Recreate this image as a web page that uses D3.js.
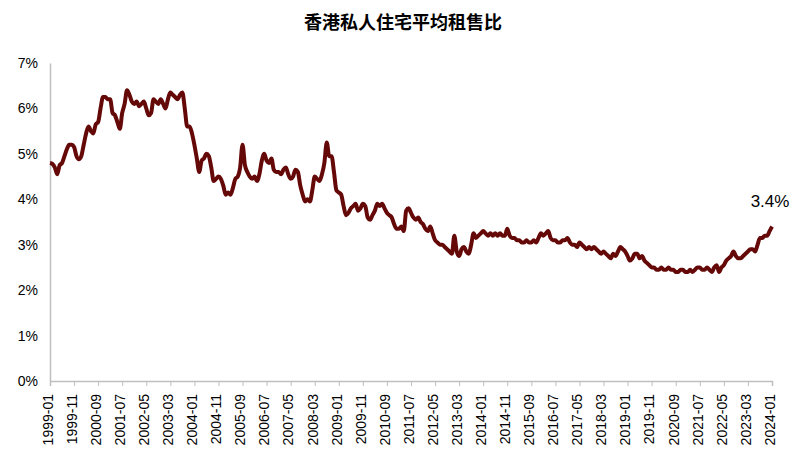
<!DOCTYPE html>
<html><head><meta charset="utf-8">
<script src="https://cdn.jsdelivr.net/npm/d3@7"></script>
<style>body{margin:0;background:#fff}</style>
</head><body><svg id="c" width="806" height="470"></svg>
<script>
const startYear = 1999;
const values = [
4.8,4.78,4.7,4.55,4.75,4.8,4.95,5.1,5.2,5.2,5.15,4.95,
4.88,4.95,5.2,5.45,5.6,5.5,5.45,5.65,5.7,6.0,6.25,6.25,
6.2,6.2,5.9,5.85,5.7,5.55,5.9,6.1,6.4,6.3,6.15,6.1,
6.15,6.05,6.1,6.15,6.0,5.85,5.9,6.2,6.15,6.1,6.2,6.1,
6.0,6.2,6.35,6.3,6.25,6.2,6.3,6.35,6.0,5.6,5.6,5.45,
5.2,4.9,4.6,4.85,4.9,5.0,4.95,4.7,4.4,4.45,4.5,4.45,
4.3,4.1,4.15,4.1,4.25,4.45,4.5,4.7,5.2,4.75,4.6,4.5,
4.45,4.5,4.4,4.55,4.85,5.0,4.85,4.8,4.9,4.65,4.6,4.6,
4.55,4.65,4.7,4.55,4.45,4.5,4.65,4.6,4.3,4.1,3.95,4.0,
3.95,4.2,4.5,4.45,4.4,4.55,4.8,5.25,4.95,4.95,4.6,4.2,
4.15,4.1,3.85,3.65,3.7,3.8,3.85,3.9,3.75,3.8,3.9,3.85,
3.6,3.55,3.65,3.75,3.9,3.85,3.9,3.8,3.7,3.65,3.6,3.45,
3.35,3.35,3.4,3.3,3.75,3.8,3.7,3.6,3.55,3.6,3.5,3.45,
3.35,3.3,3.4,3.25,3.1,3.05,3.0,3.0,2.95,2.9,2.85,2.8,
3.2,2.85,2.75,2.9,2.95,2.85,2.8,3.0,3.25,3.15,3.2,3.25,
3.3,3.25,3.2,3.25,3.2,3.25,3.2,3.25,3.2,3.2,3.35,3.2,
3.15,3.15,3.1,3.1,3.05,3.05,3.1,3.05,3.05,3.1,3.05,3.15,
3.25,3.2,3.25,3.3,3.15,3.1,3.1,3.05,3.05,3.1,3.1,3.15,
3.05,3.0,3.0,2.95,3.05,3.0,2.95,2.9,2.95,2.9,2.95,2.9,
2.85,2.8,2.85,2.8,2.75,2.7,2.8,2.75,2.85,2.95,2.9,2.85,
2.75,2.65,2.7,2.8,2.8,2.7,2.75,2.65,2.6,2.55,2.5,2.5,
2.45,2.45,2.5,2.45,2.45,2.5,2.45,2.45,2.4,2.4,2.45,2.45,
2.4,2.4,2.45,2.4,2.45,2.5,2.5,2.45,2.45,2.5,2.45,2.4,
2.5,2.55,2.4,2.5,2.55,2.65,2.7,2.75,2.85,2.75,2.7,2.7,
2.75,2.8,2.85,2.9,2.9,2.85,3.0,3.15,3.15,3.2,3.2,3.3,
3.4];
const months = values.map((v,i)=>{const y=startYear+Math.floor(i/12), m=i%12+1; return y+"-"+String(m).padStart(2,"0");});
const tickLabels = months.filter((d,i)=>i%10===0);
const yTicks = [0,1,2,3,4,5,6,7];
const title = "香港私人住宅平均租售比";
const endLabel = "3.4%";

const svg = d3.select("#c");
const font = "Liberation Sans, Arial, sans-serif";
const x = d3.scalePoint().domain(months).range([50,772]);
const y = d3.scaleLinear().domain([0,7]).range([381,63]);

svg.append("text").attr("x",403).attr("y",29).attr("text-anchor","middle")
  .attr("font-family","Noto Sans CJK SC").attr("font-weight","bold").attr("font-size",18).text(title);

const ya = svg.append("g").attr("transform","translate(50,0)")
  .call(d3.axisLeft(y).tickValues(yTicks).tickFormat(d=>d+"%").tickSize(0).tickPadding(12));
ya.select(".domain").attr("stroke","#bfbfbf").attr("stroke-width",1.5);
ya.selectAll("text").attr("font-family",font).attr("font-size",14).attr("fill","#000");

const xa = svg.append("g").attr("transform","translate(0,381)")
  .call(d3.axisBottom(x).tickValues(tickLabels).tickSize(5).tickPadding(6));
xa.select(".domain").attr("stroke","#bfbfbf").attr("stroke-width",1.5);
xa.selectAll("line").attr("stroke","#bfbfbf");
xa.selectAll("text").attr("font-family",font).attr("font-size",14).attr("fill","#000")
  .attr("transform","rotate(-90)").attr("text-anchor","end").attr("dx","-0.5em").attr("dy","-0.1em")
  .attr("x",-6).attr("y",0).style("dominant-baseline","middle");

svg.append("path").datum(values)
  .attr("d",d3.line().x((d,i)=>x(months[i])).y(d=>y(d)).curve(d3.curveMonotoneX))
  .attr("fill","none").attr("stroke","#650808").attr("stroke-width",4).attr("stroke-linejoin","round");

svg.append("text").attr("x",x(months[months.length-1])-2).attr("y",y(values[values.length-1])-20)
  .attr("text-anchor","middle").attr("font-family",font).attr("font-size",17).text(endLabel);
</script></body></html>
